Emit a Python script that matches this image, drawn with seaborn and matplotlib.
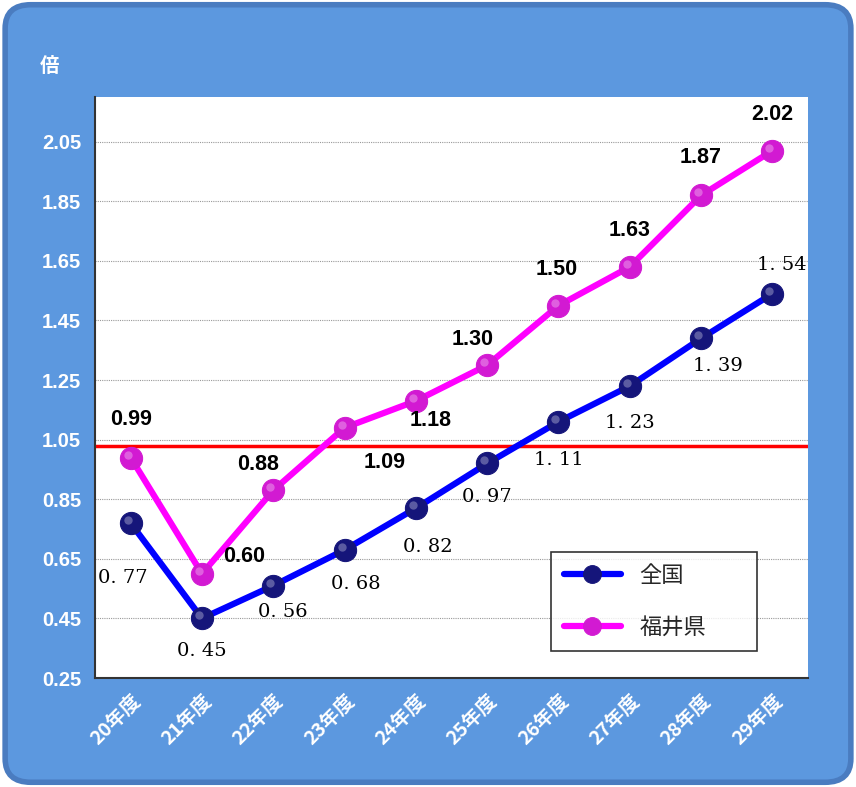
import pandas as pd
import matplotlib.pyplot as plt
import seaborn as sns
from matplotlib.patches import FancyBboxPatch
from matplotlib.transforms import offset_copy

# chart data
years = ["20年度", "21年度", "22年度", "23年度", "24年度",
         "25年度", "26年度", "27年度", "28年度", "29年度"]
zenkoku = [0.77, 0.45, 0.56, 0.68, 0.82, 0.97, 1.11, 1.23, 1.39, 1.54]
fukui = [0.99, 0.60, 0.88, 1.09, 1.18, 1.30, 1.50, 1.63, 1.87, 2.02]
y_ticks = [0.25, 0.45, 0.65, 0.85, 1.05, 1.25, 1.45, 1.65, 1.85, 2.05]
ref_line = 1.03

# label offsets in pixels from each point
zen_off = [(-8, -55), (0, -33), (10, -26), (11, -34), (12, -39),
           (0, -34), (0, -38), (0, -37), (17, -28), (9, 29)]
fuk_off = [(0, 38), (42, 17), (-15, 26), (40, -35), (15, -20),
           (-15, 26), (-2, 36), (0, 36), (0, 38), (0, 36)]

sns.set_theme(style="white")
plt.rcParams["font.family"] = ["Noto Sans CJK JP", "DejaVu Sans"]

df = pd.DataFrame({"idx": list(range(len(years))) * 2,
                   "value": zenkoku + fukui,
                   "series": ["全国"] * len(years) + ["福井県"] * len(years)})

fig = plt.figure(figsize=(8.56, 7.87), dpi=100)
fig.patch.set_facecolor("white")
bg = FancyBboxPatch((0.006, 0.006), 0.988, 0.988, boxstyle="round,pad=0,rounding_size=0.03",
                    transform=fig.transFigure, facecolor="#5C98DF", edgecolor="#4a7cc0",
                    linewidth=4, zorder=-10)
fig.patches.append(bg)

ax = fig.add_axes([0.111, 0.1385, 0.833, 0.7382])
ax.set_facecolor("white")

ax.axhline(ref_line, color="#FF0000", linewidth=2.5, zorder=2)

colors = {"全国": "#0000FF", "福井県": "#FF00FF"}
mcolors = {"全国": "#15157a", "福井県": "#d21ad2"}
hl = offset_copy(ax.transData, fig=fig, x=-3, y=3, units="dots")
for name in ["全国", "福井県"]:
    sub = df[df["series"] == name]
    sns.lineplot(data=sub, x="idx", y="value", ax=ax, color=colors[name],
                 linewidth=4.5, marker="o", markersize=16,
                 markerfacecolor=mcolors[name], markeredgecolor=mcolors[name],
                 label=name, zorder=3)
    # small highlight to suggest the shiny balls
    ax.plot(sub["idx"], sub["value"], linestyle="none", marker="o", markersize=6,
            markerfacecolor="white", markeredgewidth=0, alpha=0.3, zorder=4,
            transform=hl)

for i, v in enumerate(zenkoku):
    ax.annotate(f"{v:.2f}".replace(".", ". "), (i, v), xytext=zen_off[i],
                textcoords="offset pixels", ha="center", va="center",
                fontsize=14, family="DejaVu Serif", color="black", zorder=5)
for i, v in enumerate(fukui):
    ax.annotate(f"{v:.2f}", (i, v), xytext=fuk_off[i],
                textcoords="offset pixels", ha="center", va="center",
                fontsize=15.5, fontweight="bold", family="Liberation Sans",
                color="black", zorder=5)

ax.set_xlim(-0.5, len(years) - 0.5)
ax.set_ylim(0.25, 2.2)
ax.set_yticks(y_ticks)
ax.set_yticklabels([f"{t:.2f}" for t in y_ticks], color="white",
                   fontweight="bold", fontsize=14.5, family="Liberation Sans")
ax.set_xticks(range(len(years)))
ax.set_xticklabels(years, rotation=45, ha="right", rotation_mode="anchor",
                   color="white", fontweight="bold", fontsize=14)
ax.set_xticks([i - 0.5 for i in range(1, len(years))], minor=True)
ax.tick_params(axis="x", which="major", length=0, pad=9)
ax.tick_params(axis="x", which="minor", length=6, direction="in", color="#333333")
ax.tick_params(axis="y", length=6, direction="in", color="#333333", pad=10)
ax.yaxis.grid(True, color="#999999", linestyle=(0, (1, 1)), linewidth=0.8)
ax.set_axisbelow(True)
for s in ["top", "right"]:
    ax.spines[s].set_visible(False)
for s in ["left", "bottom"]:
    ax.spines[s].set_color("#333333")
    ax.spines[s].set_linewidth(1.5)
ax.set_xlabel("")
ax.set_ylabel("")

leg = ax.legend(loc="lower left", bbox_to_anchor=(0.64, 0.046, 0.288, 0.173),
                mode="expand", fontsize=16, frameon=True, fancybox=False,
                handlelength=2.6, borderpad=0.55, labelspacing=1.3,
                borderaxespad=0, markerscale=0.8)
leg.get_frame().set_edgecolor("black")
leg.get_frame().set_linewidth(1.2)

fig.text(50 / 856, 1 - 66 / 787, "倍", color="white", fontweight="bold",
         fontsize=14, ha="center", va="center")

fig.savefig("out.png", dpi=100, facecolor=fig.get_facecolor())
